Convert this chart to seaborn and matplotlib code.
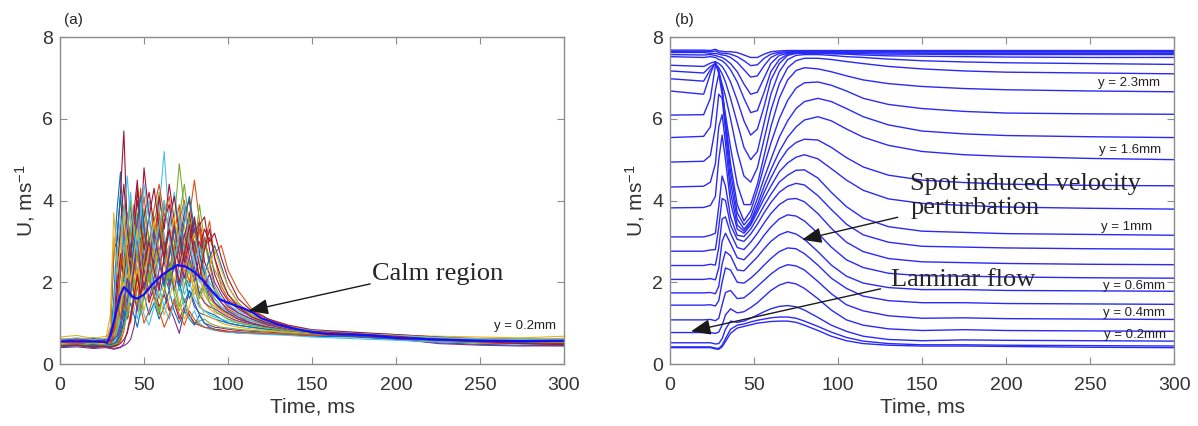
import numpy as np
import pandas as pd
import matplotlib
matplotlib.use('Agg')
import matplotlib.pyplot as plt
import seaborn as sns

# =============================================================================
# DATA
# =============================================================================
# --- panel (a): single realisations of U(t) at y = 0.2 mm, plus their mean
t_a = [0, 10, 20, 27, 30, 32, 34, 36, 38, 40, 42, 44, 46, 48, 50, 53, 56, 59, 62, 65,
       68, 71, 74, 77, 80, 83, 86, 89, 92, 96, 100, 106, 114, 124, 136, 150, 175, 200,
       225, 250, 275, 300]

run01 = [0.55,0.52,0.58,0.5,0.9,2.6,3.8,4.7,3.2,2.6, 3.4,2.2,2.9,3.6,2.5,3.1,2.4,3.3,2.8,2.0, 2.6,3.1,2.2,1.9,2.4,1.7,2.0,1.6,1.5,1.3, 1.25,1.1,1.0,0.9,0.85,0.75,0.72,0.66,0.6,0.58, 0.55,0.57]
run02 = [0.5,0.55,0.48,0.45,0.42,0.45,0.5,0.7,1.4,2.2, 3.0,3.8,2.7,3.4,4.1,3.0,3.6,2.5,3.9,3.2, 2.4,3.5,4.0,3.1,2.6,3.3,2.2,1.9,1.7,1.5, 1.35,1.2,1.05,0.95,0.82,0.72,0.7,0.62,0.58,0.55, 0.5,0.48]
run03 = [0.6,0.58,0.62,0.55,1.2,3.7,2.6,3.3,2.1,2.8, 3.5,2.4,1.8,2.6,3.2,2.2,2.9,3.8,2.7,2.1, 3.0,2.5,1.9,2.3,1.7,1.9,1.5,1.35,1.25,1.2, 1.1,1.05,0.95,0.9,0.8,0.72,0.74,0.68,0.62,0.6, 0.63,0.6]
run04 = [0.48,0.5,0.46,0.42,0.4,0.38,0.4,0.42,0.45,0.5, 0.6,0.9,1.4,1.9,2.3,1.6,2.1,2.8,1.9,1.4, 1.1,0.75,1.3,1.8,1.5,1.2,1.0,0.95,0.9,0.88, 0.85,0.82,0.8,0.78,0.75,0.7,0.68,0.62,0.55,0.52, 0.5,0.52]
run05 = [0.52,0.5,0.55,0.48,0.6,1.5,2.4,3.1,3.9,2.9, 2.2,3.0,3.7,2.8,2.1,2.7,3.4,4.2,3.1,2.6, 3.5,4.9,3.8,2.9,3.3,2.4,2.0,1.8,1.6,1.4, 1.3,1.15,1.05,0.95,0.86,0.78,0.72,0.66,0.6,0.56, 0.58,0.55]
run06 = [0.62,0.6,0.65,0.58,0.55,0.8,1.6,2.3,3.0,2.4, 3.2,2.5,3.6,2.9,3.3,4.0,3.1,3.8,5.2,3.4, 2.7,3.6,2.9,2.2,2.8,2.1,1.7,1.5,1.4,1.3, 1.2,1.1,1.0,0.9,0.8,0.75,0.7,0.65,0.62,0.6, 0.6,0.62]
run07 = [0.45,0.48,0.44,0.46,0.8,2.8,3.0,4.2,5.7,3.3, 3.9,3.0,4.3,3.2,4.8,3.6,2.9,4.1,3.3,4.4, 3.5,2.9,3.7,4.0,3.1,3.5,2.5,2.2,1.8,1.6, 1.4,1.25,1.1,0.98,0.88,0.8,0.76,0.7,0.64,0.6, 0.55,0.5]
run08 = [0.58,0.6,0.56,0.52,0.5,1.0,1.8,2.6,2.0,1.5, 2.1,2.8,2.3,1.7,2.5,3.1,2.2,2.7,2.0,2.9, 2.4,1.8,2.2,1.6,1.9,1.4,1.3,1.25,1.2,1.1, 1.0,0.95,0.9,0.85,0.8,0.74,0.72,0.68,0.6,0.57, 0.6,0.58]
run09 = [0.5,0.48,0.52,0.5,0.48,0.5,0.9,1.7,2.6,3.4, 2.8,3.9,3.1,4.3,3.5,2.7,3.8,4.4,3.6,4.1, 3.2,3.9,2.8,3.6,4.5,3.5,2.9,3.5,2.6,1.9, 1.6,1.4,1.2,1.05,0.9,0.8,0.74,0.7,0.62,0.58, 0.55,0.53]
run10 = [0.55,0.57,0.53,0.55,0.6,1.3,2.1,1.6,2.4,3.2, 2.5,1.9,2.7,2.2,1.6,2.3,2.9,2.1,1.7,2.5, 2.0,2.8,3.4,2.6,2.0,2.4,1.8,1.6,1.45,1.3, 1.2,1.1,1.0,0.92,0.85,0.78,0.72,0.66,0.6,0.62, 0.58,0.6]
run11 = [0.5,0.47,0.5,0.48,0.45,0.6,1.4,2.2,3.0,3.7, 2.9,3.4,2.6,3.1,2.3,1.8,2.5,1.9,2.6,3.3, 2.5,1.9,2.4,2.9,2.2,1.7,1.5,1.4,1.35,1.25, 1.15,1.05,0.98,0.9,0.82,0.74,0.7,0.64,0.57,0.52, 0.5,0.47]
run12 = [0.6,0.62,0.58,0.6,0.58,0.55,0.7,1.2,1.9,2.6, 3.3,2.7,2.0,2.9,3.8,3.0,2.3,3.1,4.0,3.2, 2.6,3.4,2.8,3.6,2.7,2.1,3.0,2.4,1.9,1.6, 1.45,1.25,1.1,1.0,0.88,0.8,0.74,0.7,0.64,0.6, 0.62,0.6]
run13 = [0.55,0.52,0.56,0.5,0.48,0.9,2.0,3.0,3.6,4.6, 3.5,2.8,3.3,2.5,3.0,2.4,1.9,2.6,3.2,2.4, 1.8,2.3,1.7,2.0,1.6,1.4,1.3,1.2,1.15,1.1, 1.05,1.0,0.95,0.88,0.8,0.73,0.7,0.66,0.6,0.58, 0.56,0.55]
run14 = [0.47,0.45,0.48,0.44,0.42,0.44,0.48,0.6,1.1,1.8, 2.5,3.3,4.0,3.2,3.6,4.2,3.4,2.7,3.5,3.9, 3.0,2.4,3.1,3.7,2.9,3.4,3.6,2.8,2.2,1.8, 1.55,1.35,1.15,1.0,0.9,0.82,0.76,0.7,0.63,0.58, 0.52,0.5]
run15 = [0.52,0.55,0.5,0.48,0.52,1.6,3.2,4.1,2.8,2.2, 2.9,2.3,3.1,2.5,1.9,2.6,2.0,1.6,2.2,1.8, 2.5,2.0,1.5,1.8,1.4,1.25,1.2,1.15,1.1,1.05, 1.0,0.95,0.9,0.84,0.78,0.72,0.7,0.64,0.58,0.55, 0.53,0.52]
run16 = [0.45,0.47,0.44,0.45,0.4,0.42,0.45,0.55,0.8,1.3, 1.9,2.5,2.1,2.8,3.4,2.6,3.2,3.7,2.9,2.3, 2.9,3.4,2.5,2.0,2.6,3.0,2.3,1.8,1.5,1.35, 1.2,1.1,1.0,0.92,0.84,0.76,0.72,0.66,0.6,0.56, 0.52,0.5]
run17 = [0.62,0.6,0.64,0.6,0.58,0.62,1.1,1.8,2.5,2.0, 2.7,3.4,2.6,1.9,2.4,3.0,2.3,2.8,2.1,2.7, 3.3,2.6,3.1,2.4,1.8,2.2,1.7,1.5,1.4,1.3, 1.2,1.1,1.0,0.93,0.85,0.78,0.74,0.7,0.66,0.62, 0.6,0.63]
run18 = [0.5,0.52,0.5,0.52,0.48,0.5,0.55,0.8,1.3,2.0, 1.6,2.3,2.9,2.2,2.7,2.0,2.6,3.2,2.5,1.9, 2.4,2.9,2.2,2.8,3.5,2.7,2.1,1.7,1.5,1.35, 1.25,1.1,1.0,0.9,0.82,0.75,0.7,0.66,0.6,0.56, 0.54,0.55]
run19 = [0.55,0.58,0.55,0.52,0.5,0.55,1.0,1.6,1.2,1.9, 2.4,1.8,1.4,1.9,2.6,2.1,1.6,1.2,1.8,2.3, 1.7,1.3,1.6,1.2,1.0,1.05,1.1,1.0,0.95,0.9, 0.88,0.85,0.82,0.8,0.76,0.7,0.68,0.62,0.56,0.52, 0.54,0.53]
run20 = [0.58,0.55,0.6,0.56,0.54,0.58,0.62,0.9,1.6,2.5, 3.1,2.5,3.0,3.9,3.1,3.6,2.8,3.4,2.6,3.2, 4.2,3.4,2.7,3.3,2.6,2.0,2.3,1.9,1.6,1.4, 1.3,1.2,1.05,0.95,0.85,0.77,0.72,0.68,0.62,0.6, 0.58,0.6]
run21 = [0.5,0.48,0.5,0.47,0.45,0.7,1.8,2.7,2.1,2.9, 2.3,1.7,2.2,1.6,2.1,1.5,1.9,1.4,1.7,1.3, 1.5,1.1,1.4,1.2,1.0,0.95,0.9,0.88,0.85,0.83, 0.8,0.78,0.76,0.74,0.72,0.7,0.68,0.64,0.58,0.55, 0.52,0.5]
run22 = [0.42,0.45,0.4,0.43,0.4,0.45,0.6,0.9,1.3,1.1, 1.5,1.2,0.9,1.3,1.7,1.2,1.5,1.1,1.4,1.8, 1.3,1.0,1.3,1.1,0.95,1.2,1.0,0.9,0.85,0.8, 0.78,0.76,0.75,0.74,0.72,0.68,0.66,0.6,0.52,0.48, 0.46,0.44]
run23 = [0.56,0.6,0.54,0.58,0.55,0.6,1.3,2.4,3.3,2.6, 2.0,2.9,3.5,2.6,3.2,2.4,3.0,3.6,2.8,3.3, 2.5,3.1,2.6,3.2,2.7,3.3,2.8,3.1,2.7,2.9, 2.3,1.8,1.35,1.1,0.92,0.82,0.76,0.72,0.66,0.62, 0.6,0.58]
run24 = [0.66,0.7,0.62,0.68,0.64,0.7,0.9,1.4,2.0,1.6, 1.2,1.7,2.3,1.8,1.3,1.9,2.4,1.7,1.2,1.6, 2.1,1.5,1.1,1.4,1.9,1.5,1.2,1.15,1.1,1.0, 0.95,0.9,0.86,0.82,0.78,0.74,0.72,0.7,0.68,0.66, 0.64,0.68]
run25 = [0.4,0.42,0.38,0.4,0.38,0.36,0.38,0.4,0.5,0.8, 1.2,1.7,1.3,2.2,2.9,2.2,1.6,2.3,3.0,2.4, 1.8,2.5,3.2,2.6,2.0,2.7,3.1,2.5,2.0,1.7, 1.45,1.25,1.1,0.95,0.85,0.76,0.7,0.62,0.5,0.46, 0.44,0.45]
run26 = [0.56,0.52,0.58,0.54,0.5,0.56,0.9,1.6,2.3,3.1, 4.0,3.2,2.5,3.3,2.7,2.0,2.8,3.5,2.7,2.1, 2.8,3.6,4.4,3.4,2.8,3.9,3.0,2.6,2.3,2.0, 1.7,1.45,1.2,1.05,0.9,0.8,0.74,0.7,0.64,0.58, 0.6,0.57]
run27 = [0.5,0.46,0.52,0.48,0.44,0.5,0.8,1.2,0.9,1.4, 1.9,1.4,1.1,1.6,1.2,0.95,1.4,1.9,1.4,1.1, 1.5,1.9,1.4,1.1,1.3,1.0,0.9,0.85,0.82,0.8, 0.78,0.76,0.74,0.72,0.7,0.66,0.62,0.58,0.54,0.56, 0.6,0.57]
run28 = [0.6,0.56,0.62,0.58,0.6,0.95,2.2,3.4,4.4,3.3, 2.6,3.7,4.5,3.4,2.8,3.6,4.3,3.3,2.6,3.5, 4.1,3.2,2.5,3.0,3.6,2.8,3.3,3.0,3.2,2.6, 2.1,1.6,1.3,1.1,0.95,0.84,0.78,0.72,0.66,0.6, 0.58,0.56]
run29 = [0.46,0.5,0.44,0.5,0.46,0.5,0.55,0.7,1.0,1.5, 2.2,2.9,3.5,4.1,3.3,2.6,3.3,2.5,1.9,2.6, 3.3,2.7,3.5,4.1,3.3,2.7,2.2,2.6,2.9,2.4, 1.9,1.5,1.2,1.0,0.88,0.8,0.74,0.68,0.6,0.55, 0.52,0.54]
run30 = [0.52,0.5,0.56,0.52,0.5,0.8,1.5,1.1,1.7,1.3, 1.0,1.5,1.9,1.4,1.0,1.3,1.7,1.3,0.9,1.2, 1.6,1.2,0.95,1.3,1.1,0.95,0.9,0.88,0.84,0.8, 0.8,0.78,0.77,0.75,0.73,0.7,0.7,0.64,0.58,0.54, 0.5,0.52]
run31 = [0.5,0.54,0.5,0.5,0.9,3.1,2.2,2.9,3.6,2.7, 2.0,2.6,3.3,2.5,2.0,2.8,3.5,2.6,2.1,2.9, 3.6,2.8,2.2,2.7,3.2,2.5,2.1,2.4,2.8,2.3, 1.9,1.5,1.2,1.0,0.88,0.8,0.74,0.7,0.64,0.6, 0.58,0.6]
run32 = [0.58,0.62,0.56,0.6,0.56,0.6,0.7,1.0,1.5,2.1, 1.7,2.4,3.0,2.4,1.8,2.5,3.2,2.6,2.0,2.7, 3.4,2.7,2.1,2.6,3.0,2.4,1.9,2.2,1.8,1.5, 1.3,1.15,1.0,0.9,0.82,0.76,0.7,0.64,0.58,0.55, 0.56,0.52]
run33 = [0.48,0.45,0.5,0.46,0.44,0.46,0.5,0.65,0.9,1.2, 1.6,2.1,1.6,1.2,1.7,2.2,1.7,1.3,1.8,2.4, 1.9,1.4,1.9,2.5,2.0,1.6,1.9,1.5,1.3,1.2, 1.1,1.0,0.94,0.88,0.82,0.76,0.72,0.68,0.62,0.6, 0.55,0.53]
run34 = [0.6,0.64,0.6,0.62,0.62,1.3,2.7,3.6,2.7,3.4, 4.2,3.3,2.7,3.6,4.4,3.5,2.8,3.4,4.0,3.1, 2.5,3.2,3.9,3.0,2.4,2.9,2.3,2.0,1.8,1.6, 1.45,1.3,1.15,1.0,0.9,0.82,0.75,0.7,0.65,0.62, 0.6,0.62]
run35 = [0.44,0.46,0.42,0.44,0.42,0.44,0.46,0.5,0.6,0.75, 1.1,1.6,2.2,1.7,2.4,3.0,2.3,1.8,2.6,3.3, 2.6,2.0,2.7,3.4,2.7,2.1,2.8,3.3,2.6,2.1, 1.7,1.4,1.15,1.0,0.88,0.8,0.74,0.68,0.6,0.55, 0.5,0.48]
runs_a = [run01, run02, run03, run04, run05, run06, run07, run08, run09, run10, run11,
          run12, run13, run14, run15, run16, run17, run18, run19, run20, run21, run22,
          run23, run24, run25, run26, run27, run28, run29, run30, run31, run32, run33,
          run34, run35]

t_mean = [0, 20, 26, 28, 30, 33, 36, 38, 40, 43, 46, 50, 55, 60, 65, 70, 75, 80, 85, 90,
          95, 100, 105, 110, 115, 120, 130, 140, 150, 160, 175, 185, 200, 225, 250, 275, 300]
u_mean = [0.55, 0.55, 0.54, 0.52, 0.7, 1.2, 1.7, 1.88, 1.8, 1.65, 1.6, 1.7, 1.95, 2.15, 2.3,
          2.42, 2.38, 2.25, 2.05, 1.8, 1.58, 1.5, 1.42, 1.35, 1.25, 1.12, 0.97, 0.86, 0.78,
          0.73, 0.72, 0.7, 0.64, 0.6, 0.57, 0.56, 0.57]

# --- panel (b): ensemble-averaged U(t) at 25 wall distances (bottom -> top)
t_b = [0, 20, 24, 27, 29, 31, 33, 36, 40, 44, 48, 52, 56, 60, 65, 70, 75, 80, 88, 96,
       105, 115, 130, 150, 175, 200, 250, 300]

prof01 = [.40,.40,.40,.37,.36,.42,.55,.75,.88,.92, .96,1.0,1.02,1.04,1.05,1.05,1.02,.95,.82,.68, .57,.50,.46,.44,.44,.43,.41,.40]
prof02 = [.42,.42,.42,.39,.38,.46,.62,.85,.95,.98, 1.03,1.07,1.1,1.13,1.15,1.15,1.12,1.05,.92,.78, .65,.56,.50,.47,.47,.46,.45,.44]
prof03 = [.52,.52,.52,.49,.50,.62,.85,1.05,1.02,1.05, 1.12,1.2,1.28,1.35,1.41,1.43,1.40,1.32,1.14,.95, .80,.68,.60,.57,.59,.58,.57,.56]
prof04 = [.77,.77,.77,.75,.78,.95,1.2,1.35,1.25,1.28, 1.38,1.5,1.65,1.8,1.93,2.0,1.96,1.85,1.6,1.32, 1.08,.95,.86,.82,.84,.82,.81,.80]
prof05 = [1.08,1.08,1.09,1.06,1.12,1.45,1.75,1.8,1.6,1.62, 1.75,1.9,2.05,2.2,2.35,2.43,2.4,2.3,2.02,1.72, 1.45,1.3,1.18,1.12,1.13,1.11,1.10,1.09]
prof06 = [1.44,1.44,1.45,1.42,1.55,2.0,2.35,2.3,2.0,1.98, 2.1,2.25,2.42,2.58,2.75,2.84,2.82,2.7,2.42,2.1, 1.85,1.66,1.55,1.50,1.50,1.48,1.47,1.46]
prof07 = [1.74,1.74,1.75,1.72,1.9,2.45,2.75,2.65,2.3,2.28, 2.45,2.62,2.82,3.0,3.16,3.24,3.18,3.05,2.75,2.42, 2.15,1.98,1.87,1.82,1.82,1.80,1.79,1.78]
prof08 = [2.07,2.07,2.09,2.06,2.35,3.0,3.2,2.95,2.6,2.55, 2.72,2.92,3.15,3.35,3.55,3.65,3.62,3.5,3.2,2.86, 2.55,2.36,2.22,2.16,2.15,2.13,2.11,2.10]
prof09 = [2.41,2.41,2.44,2.42,2.85,3.55,3.6,3.2,2.85,2.8, 2.98,3.2,3.45,3.68,3.9,4.03,4.05,3.97,3.68,3.32, 2.98,2.75,2.58,2.5,2.48,2.46,2.44,2.43]
prof10 = [2.76,2.76,2.79,2.8,3.35,4.05,4.0,3.4,3.05,3.0, 3.18,3.42,3.7,3.95,4.2,4.35,4.42,4.38,4.12,3.78, 3.42,3.16,2.98,2.88,2.86,2.84,2.82,2.81]
prof11 = [3.11,3.11,3.15,3.2,3.85,4.6,4.35,3.6,3.15,3.12, 3.3,3.58,3.88,4.15,4.45,4.62,4.74,4.75,4.55,4.2, 3.85,3.57,3.36,3.25,3.22,3.19,3.17,3.15]
prof12 = [3.82,3.83,3.88,4.1,5.0,5.6,5.0,3.95,3.3,3.2, 3.4,3.72,4.05,4.35,4.7,4.92,5.06,5.12,5.02,4.78, 4.5,4.25,4.04,3.93,3.88,3.84,3.81,3.79]
prof13 = [4.33,4.35,4.45,4.9,5.8,6.1,5.4,4.2,3.4,3.25, 3.45,3.8,4.2,4.55,4.95,5.25,5.42,5.5,5.48,5.3, 5.05,4.82,4.62,4.5,4.44,4.40,4.37,4.36]
prof14 = [4.94,4.96,5.1,5.8,6.6,6.5,5.7,4.45,3.55,3.3, 3.5,3.9,4.35,4.75,5.2,5.55,5.8,5.97,6.05,5.95, 5.75,5.55,5.35,5.2,5.12,5.08,5.03,5.0]
prof15 = [5.54,5.57,5.8,6.7,7.1,6.8,5.9,4.7,3.7,3.4, 3.6,4.05,4.55,5.0,5.55,5.95,6.25,6.42,6.5,6.42, 6.25,6.05,5.85,5.7,5.63,5.59,5.56,5.54]
prof16 = [6.09,6.1,6.5,7.3,7.2,6.7,6.0,4.9,3.9,3.5, 3.75,4.25,4.85,5.4,6.0,6.45,6.75,6.88,6.9,6.82, 6.68,6.5,6.35,6.25,6.18,6.14,6.12,6.11]
prof17 = [6.68,6.6,7.1,7.4,7.1,6.6,6.1,5.3,4.4,3.9, 3.9,4.4,5.1,5.8,6.5,6.95,7.18,7.25,7.22,7.15, 7.05,6.95,6.86,6.79,6.74,6.71,6.68,6.66]
prof18 = [6.98,6.92,7.2,7.35,7.15,6.85,6.55,6.0,5.2,4.6, 4.45,4.8,5.5,6.2,6.85,7.25,7.42,7.48,7.48,7.45, 7.4,7.35,7.28,7.22,7.17,7.14,7.12,7.10]
prof19 = [7.17,7.12,7.28,7.35,7.25,7.1,6.9,6.5,5.9,5.3, 5.0,5.2,5.9,6.6,7.15,7.45,7.55,7.57,7.57,7.55, 7.52,7.5,7.46,7.42,7.39,7.37,7.35,7.33]
prof20 = [7.31,7.28,7.36,7.4,7.35,7.28,7.15,6.9,6.45,5.95, 5.6,5.75,6.3,6.95,7.35,7.55,7.6,7.6,7.6,7.59, 7.58,7.56,7.54,7.53,7.52,7.51,7.50,7.50]
prof21 = [7.52,7.5,7.52,7.5,7.45,7.42,7.35,7.2,6.9,6.5, 6.15,6.2,6.65,7.15,7.45,7.58,7.6,7.61,7.61,7.6, 7.6,7.59,7.58,7.58,7.57,7.57,7.57,7.57]
prof22 = [7.57,7.56,7.57,7.55,7.52,7.5,7.45,7.35,7.15,6.85, 6.6,6.65,7.0,7.35,7.55,7.6,7.61,7.62,7.62,7.62, 7.62,7.61,7.61,7.6,7.6,7.6,7.6,7.6]
prof23 = [7.62,7.62,7.6,7.6,7.58,7.56,7.55,7.5,7.38,7.2, 7.02,7.05,7.3,7.5,7.6,7.62,7.63,7.63,7.63,7.63, 7.63,7.63,7.63,7.63,7.63,7.63,7.63,7.63]
prof24 = [7.65,7.65,7.64,7.66,7.62,7.6,7.6,7.58,7.52,7.42, 7.3,7.32,7.48,7.58,7.63,7.64,7.65,7.65,7.65,7.65, 7.65,7.65,7.65,7.65,7.65,7.65,7.65,7.65]
prof25 = [7.68,7.68,7.67,7.7,7.66,7.65,7.64,7.64,7.62,7.56, 7.5,7.5,7.58,7.64,7.66,7.67,7.67,7.67,7.67,7.67, 7.67,7.67,7.67,7.67,7.67,7.67,7.67,7.67]
profiles_b = [prof01, prof02, prof03, prof04, prof05, prof06, prof07, prof08, prof09,
              prof10, prof11, prof12, prof13, prof14, prof15, prof16, prof17, prof18,
              prof19, prof20, prof21, prof22, prof23, prof24, prof25]

# wall-distance labels on panel (b): text, time, velocity
ylab_text = ['y = 2.3mm', 'y = 1.6mm', 'y = 1mm', 'y = 0.6mm', 'y = 0.4mm', 'y = 0.2mm']
ylab_t = [273, 274, 272, 276, 276, 277]
ylab_u = [6.88, 5.24, 3.34, 1.91, 1.26, 0.70]

# =============================================================================
# FIGURE
# =============================================================================
sns.set_theme(style="white")
plt.rcParams['font.family'] = ['Liberation Sans', 'DejaVu Sans']
plt.rcParams['mathtext.fontset'] = 'custom'
plt.rcParams['mathtext.rm'] = 'Liberation Sans'
plt.rcParams['mathtext.it'] = 'Liberation Sans:italic'

matlab_cols = ['#0072BD', '#D95319', '#EDB120', '#7E2F8E', '#77AC30', '#4DBEEE', '#A2142F']
txt_col = '#333333'
ax_col = '#8c8c8c'
serif = 'Liberation Serif'
arrow_kw = dict(arrowstyle='-|>,head_length=1.0,head_width=0.4', mutation_scale=12,
                color='k', lw=1.0, shrinkA=0, shrinkB=0)

fig = plt.figure(figsize=(11.98, 4.26), dpi=100)
ax_a = fig.add_axes([0.0501, 0.1455, 0.4207, 0.7676])
ax_b = fig.add_axes([0.5593, 0.1455, 0.4207, 0.7676])

# panel (a)
df_a = pd.DataFrame([(t, u, f'r{i:02d}') for i, run in enumerate(runs_a)
                     for t, u in zip(t_a, run)], columns=['t', 'U', 'run'])
pal_a = {f'r{i:02d}': matlab_cols[i % 7] for i in range(len(runs_a))}
sns.lineplot(data=df_a, x='t', y='U', hue='run', palette=pal_a, estimator=None,
             lw=0.8, legend=False, ax=ax_a)
sns.lineplot(x=t_mean, y=u_mean, color='#1010ff', lw=1.6, ax=ax_a)
ax_a.text(277, 0.92, 'y = 0.2mm', fontsize=9.5, color='#222222', ha='center', va='center')
ax_a.text(185.7, 2.2, 'Calm region', family=serif, fontsize=19, ha='left', va='center')
ax_a.annotate('', xy=(112.2, 1.30), xytext=(184.6, 1.96), arrowprops=arrow_kw)

# panel (b)
df_b = pd.DataFrame([(t, u, i) for i, prof in enumerate(profiles_b)
                     for t, u in zip(t_b, prof)], columns=['t', 'U', 'level'])
sns.lineplot(data=df_b, x='t', y='U', units='level', estimator=None,
             color='#2a2af5', lw=1.0, ax=ax_b)
for s, t, u in zip(ylab_text, ylab_t, ylab_u):
    ax_b.text(t, u, s, fontsize=9.5, color='#222222', ha='center', va='center')
ax_b.text(142.9, 4.11, 'Spot induced velocity\nperturbation', family=serif, fontsize=19,
          ha='left', va='center', linespacing=1.15)
ax_b.annotate('', xy=(78.5, 3.04), xytext=(135.5, 3.59), arrowprops=arrow_kw)
ax_b.text(131.4, 2.06, 'Laminar flow', family=serif, fontsize=19, ha='left', va='center')
ax_b.annotate('', xy=(12.5, 0.80), xytext=(125.3, 1.84), arrowprops=arrow_kw)

for ax in [ax_a, ax_b]:
    ax.set_xlim(0, 300)
    ax.set_ylim(0, 8)
    ax.set_xticks(range(0, 301, 50))
    ax.set_yticks([0, 2, 4, 6, 8])
    for sp in ax.spines.values():
        sp.set_visible(True)
        sp.set_color(ax_col)
        sp.set_linewidth(1.0)
    ax.tick_params(direction='in', length=5, width=0.8, color=ax_col, bottom=True,
                   left=True, top=True, right=True, labelsize=14, labelcolor=txt_col)
    ax.tick_params(axis='x', pad=9)
    ax.tick_params(axis='y', pad=5)
    ax.set_xlabel('Time, ms', fontsize=15, color=txt_col, labelpad=3)
    ax.set_ylabel('U, ms$^{-1}$', fontsize=15, color=txt_col, labelpad=4)

fig.text(73 / 1198, 0.953, '(a)', fontsize=11, color='#222222', ha='center', va='center')
fig.text(684 / 1198, 0.953, '(b)', fontsize=11, color='#222222', ha='center', va='center')

plt.savefig('out.png', dpi=100)
plt.close()
